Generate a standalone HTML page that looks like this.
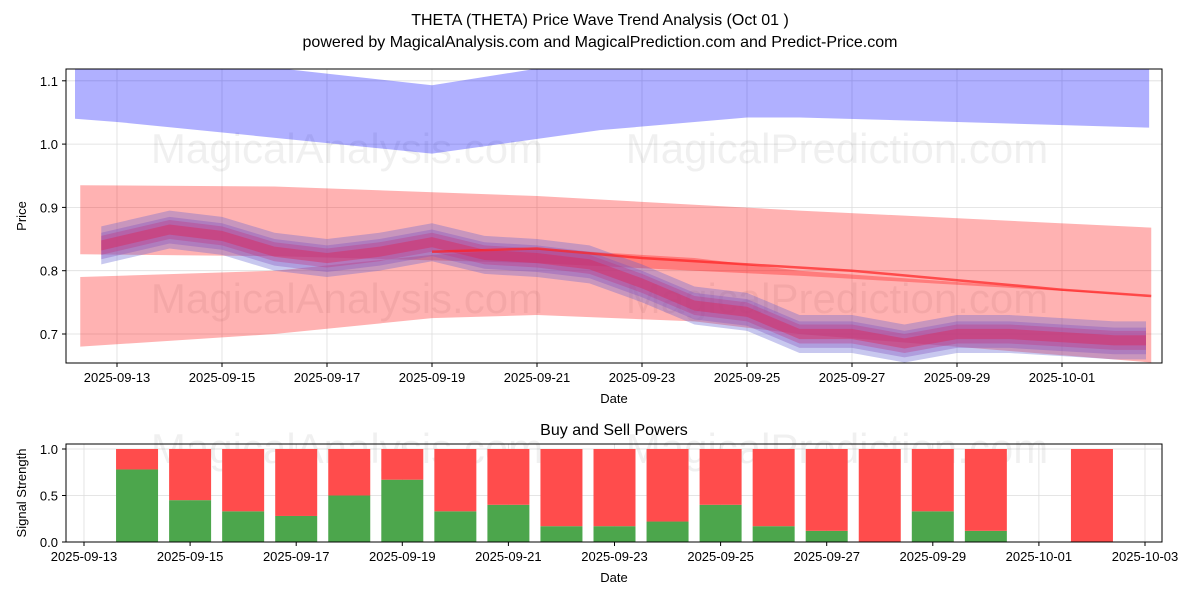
<!DOCTYPE html>
<html><head><meta charset="utf-8"><style>
body{margin:0;background:#fff;font-family:"Liberation Sans",sans-serif}
svg text{font-family:"Liberation Sans","DejaVu Sans",sans-serif}
</style></head><body>
<svg id="c" width="1200" height="600" xmlns="http://www.w3.org/2000/svg">
<rect width="1200" height="600" fill="#fff"/>
<text x="600" y="25" text-anchor="middle" font-size="16">THETA (THETA) Price Wave Trend Analysis (Oct 01 )</text>
<text x="600" y="47" text-anchor="middle" font-size="16">powered by MagicalAnalysis.com and MagicalPrediction.com and Predict-Price.com</text>
<g id="topPanel"></g>
<g id="botPanel"></g>
</svg>
<script>
// ---- price chart data (day offsets from 2025-09-13) ----
const blueDays=[-0.8,0,6,9.2,12,13,16,19.66];
const blueLow=[1.04,1.035,0.985,1.022,1.042,1.042,1.035,1.026];
const blueHigh=[1.155,1.148,1.093,1.135,1.16,1.165,1.165,1.16];
const redUpDays=[-0.7,3,8,13,19.7];
const redUpHigh=[0.935,0.933,0.918,0.895,0.868];
const redUpLow=[0.826,0.823,0.812,0.792,0.76];
const redLoDays=[-0.7,3,6,8,11,13,19.7];
const redLoHigh=[0.79,0.80,0.825,0.835,0.82,0.80,0.76];
const redLoLow=[0.68,0.70,0.725,0.73,0.72,0.70,0.655];
const bundleDays=[-0.3,1,2,3,4,5,6,7,8,9,10,11,12,13,14,15,16,17,18,19,19.6];
const bundleMid=[0.84,0.865,0.855,0.83,0.82,0.83,0.845,0.825,0.82,0.81,0.78,0.745,0.735,0.70,0.70,0.685,0.70,0.70,0.695,0.69,0.69];
const redLineDays=[6,8,10,12,14,16,18,19.7];
const redLineVals=[0.83,0.835,0.82,0.81,0.80,0.785,0.77,0.76];
const priceTicks=[0.7,0.8,0.9,1.0,1.1];
const dateTicks=["2025-09-13","2025-09-15","2025-09-17","2025-09-19","2025-09-21","2025-09-23","2025-09-25","2025-09-27","2025-09-29","2025-10-01"];
// ---- signal data ----
const barDays=[1,2,3,4,5,6,7,8,9,10,11,12,13,14,15,16,17,19];
const buyVals=[0.78,0.45,0.33,0.28,0.5,0.67,0.33,0.4,0.17,0.17,0.22,0.4,0.17,0.12,0,0.33,0.12,0];
const sellVals=[0.22,0.55,0.67,0.72,0.5,0.33,0.67,0.6,0.83,0.83,0.78,0.6,0.83,0.88,1,0.67,0.88,1];
const sigTicks=[0,0.5,1.0];
const botDateTicks=["2025-09-13","2025-09-15","2025-09-17","2025-09-19","2025-09-21","2025-09-23","2025-09-25","2025-09-27","2025-09-29","2025-10-01","2025-10-03"];

const NS="http://www.w3.org/2000/svg";
function mk(p,t,a){const e=document.createElementNS(NS,t);for(const k in a)e.setAttribute(k,a[k]);p.appendChild(e);return e;}
const L=66,R=1162,T=69,B=363;
const x=d=>117+d*52.5;
const y=v=>334-(v-0.7)*633;
const topG=document.getElementById('topPanel');
const botG=document.getElementById('botPanel');
const clip=mk(document.querySelector('svg'),'clipPath',{id:'cp'});mk(clip,'rect',{x:L,y:T,width:R-L,height:B-T});
priceTicks.forEach(v=>{const g=mk(topG,'line',{x1:L,x2:R,y1:y(v),y2:y(v),stroke:'#ddd','stroke-width':0.8});

const t=mk(topG,'text',{x:L-8,y:y(v)+5,'text-anchor':'end','font-size':13});t.textContent=v.toFixed(1);

mk(topG,'line',{x1:L-4,x2:L,y1:y(v),y2:y(v),stroke:'#000'});});
dateTicks.forEach((s,i)=>{const xx=x(i*2);mk(topG,'line',{x1:xx,x2:xx,y1:T,y2:B,stroke:'#ddd','stroke-width':0.8});
mk(topG,'line',{x1:xx,x2:xx,y1:B,y2:B+4,stroke:'#000'});
const t=mk(topG,'text',{x:xx,y:B+19,'text-anchor':'middle','font-size':13});t.textContent=s;
});
const wm=(g,yy)=>{[["MagicalAnalysis.com",347],["MagicalPrediction.com",837]].forEach(([s,xx])=>{const t=mk(g,'text',{x:xx,y:yy,'text-anchor':'middle','font-size':42,fill:'#000','fill-opacity':0.06});t.textContent=s;
});};
wm(topG,163);wm(topG,313);
const plot=mk(topG,'g',{'clip-path':'url(#cp)'});
function band(days,lo,hi,col,op,name){let pts=days.map((d,i)=>x(d)+','+y(hi[i]));
for(let i=days.length-1;i>=0;i--)pts.push(x(days[i])+','+y(lo[i]));
const p=mk(plot,'polygon',{points:pts.join(' '),fill:col,'fill-opacity':op});
}
band(blueDays,blueLow,blueHigh,'#0000ff',0.31,'blue-wave-band');
band(redUpDays,redUpLow,redUpHigh,'#ff0000',0.3,'red-upper-band');
band(redLoDays,redLoLow,redLoHigh,'#ff0000',0.3,'red-lower-band');
const offs=[[-0.03,0.03,'#6060d0',0.35],[-0.022,0.02,'#8050c0',0.35],[-0.015,0.015,'#c03080',0.35],[-0.008,0.008,'#e02050',0.4]];
offs.forEach(o=>{band(bundleDays,bundleMid.map(v=>v+o[0]),bundleMid.map(v=>v+o[1]),o[2],o[3],'price-wave-bundle');});
const rl=mk(plot,'polyline',{points:redLineDays.map((d,i)=>x(d)+','+y(redLineVals[i])).join(' '),fill:'none',stroke:'#ff2020','stroke-width':2.5,'stroke-opacity':0.7});

mk(topG,'rect',{x:L,y:T,width:R-L,height:B-T,fill:'none',stroke:'#000','stroke-width':1});
let t=mk(topG,'text',{x:614,y:403,'text-anchor':'middle','font-size':13});t.textContent='Date';

t=mk(topG,'text',{x:0,y:0,'text-anchor':'middle','font-size':13,transform:'translate(26,216) rotate(-90)'});t.textContent='Price';

const BL=66,BR=1162,BT=444,BB=542;
const bx=d=>84+d*53.05;
const by=v=>542-v*93;
sigTicks.forEach(v=>{mk(botG,'line',{x1:BL,x2:BR,y1:by(v),y2:by(v),stroke:'#ddd','stroke-width':0.8});
mk(botG,'line',{x1:BL-4,x2:BL,y1:by(v),y2:by(v),stroke:'#000'});
const t=mk(botG,'text',{x:BL-8,y:by(v)+5,'text-anchor':'end','font-size':13});t.textContent=v.toFixed(1);
});
botDateTicks.forEach((s,i)=>{const xx=bx(i*2);mk(botG,'line',{x1:xx,x2:xx,y1:BT,y2:BB,stroke:'#ddd','stroke-width':0.8});
mk(botG,'line',{x1:xx,x2:xx,y1:BB,y2:BB+4,stroke:'#000'});
const t=mk(botG,'text',{x:xx,y:BB+19,'text-anchor':'middle','font-size':13});t.textContent=s;
});
wm(botG,463);
barDays.forEach((d,i)=>{const cx=bx(d),w=42;
const g=mk(botG,'rect',{x:cx-w/2,y:by(buyVals[i]),width:w,height:by(0)-by(buyVals[i]),fill:'#4ca64c'});

const r=mk(botG,'rect',{x:cx-w/2,y:by(buyVals[i]+sellVals[i]),width:w,height:by(buyVals[i])-by(buyVals[i]+sellVals[i]),fill:'#ff4c4c'});
});
mk(botG,'rect',{x:BL,y:BT,width:BR-BL,height:BB-BT,fill:'none',stroke:'#000','stroke-width':1});
t=mk(botG,'text',{x:614,y:435,'text-anchor':'middle','font-size':16});t.textContent='Buy and Sell Powers';

t=mk(botG,'text',{x:614,y:582,'text-anchor':'middle','font-size':13});t.textContent='Date';

t=mk(botG,'text',{x:0,y:0,'text-anchor':'middle','font-size':13,transform:'translate(26,493) rotate(-90)'});t.textContent='Signal Strength';

</script>
</body></html>
